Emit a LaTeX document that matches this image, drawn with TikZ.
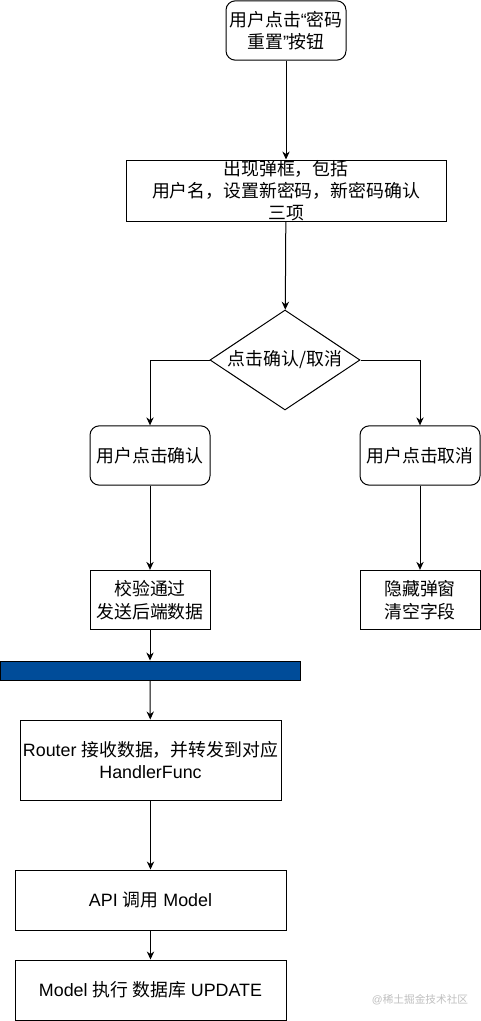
\documentclass[tikz,border=0pt]{standalone}
\usepackage{fontspec}
\setmainfont{Liberation Sans}
\newfontfamily\cjk{Noto Sans CJK SC}
\usetikzlibrary{shapes.geometric,arrows.meta}
\definecolor{barblue}{HTML}{004C99}
\begin{document}
\begin{tikzpicture}[x=0.75pt,y=-0.75pt,line width=0.75pt,
    >={Stealth[length=6pt,width=5.5pt]},
    every node/.style={inner sep=0pt,align=center,font=\fontsize{13.4pt}{17pt}\selectfont},
    box/.style={draw,minimum width=90pt,minimum height=44.5pt},
    roundbox/.style={box,rounded corners=7pt},
    widebox/.style={draw,minimum width=203.25pt,minimum height=45pt}]
    \useasboundingbox (0,0) rectangle (481,1021);
    \node[roundbox] at (286,30.5) (start) {{\cjk 用户点击}“{\cjk 密码}\\{\cjk 重置}”{\cjk 按钮}};
    \node[box,minimum width=240pt,minimum height=45.75pt,font=\fontsize{13.4pt}{16.5pt}\selectfont] at (286,190.5) (popup) {\cjk 出现弹框，包括\\\cjk 用户名，设置新密码，新密码确认\\\cjk 三项};
    \node[draw,diamond,aspect=1.5,minimum width=112.5pt,minimum height=75pt] at (285,360) (choice) {\cjk 点击确认/取消};
    \draw[->] (start) -- (popup);
    \draw[->] (popup) -- (choice);
    % confirm branch
    \node[roundbox] at (150,455.5) (confirm) {\cjk 用户点击确认};
    \node[box] at (150,600) (check) {\cjk 校验通过\\\cjk 发送后端数据};
    \draw[->] (choice.west) -| (confirm.north);
    \draw[->] (confirm) -- (check);
    % cancel branch
    \node[roundbox] at (420,455.5) (cancel) {\cjk 用户点击取消};
    \node[box] at (420,600) (hide) {\cjk 隐藏弹窗\\\cjk 清空字段};
    \draw[->] (choice.east) -| (cancel.north);
    \draw[->] (cancel) -- (hide);
    % backend
    \node[draw,fill=barblue,minimum width=225pt,minimum height=14.25pt] at (150,670.5) (bar) {};
    \node[draw,minimum width=195.75pt,minimum height=60pt] at (150.5,760) (router) {Router {\cjk 接收数据，并转发到对应}\\HandlerFunc};
    \node[widebox] at (150.5,900) (api) {API {\cjk 调用} Model};
    \node[widebox] at (150.5,990) (model) {Model {\cjk 执行 数据库} UPDATE};
    \draw[->] (check) -- (bar);
    \draw[->] (bar) -- (router);
    \draw[->] (router) -- (api);
    \draw[->] (api) -- (model);
    \node[text=black!25,font=\fontsize{8pt}{10pt}\selectfont] at (420,1000) (mark) {@{\cjk 稀土掘金技术社区}};
\end{tikzpicture}
\end{document}
